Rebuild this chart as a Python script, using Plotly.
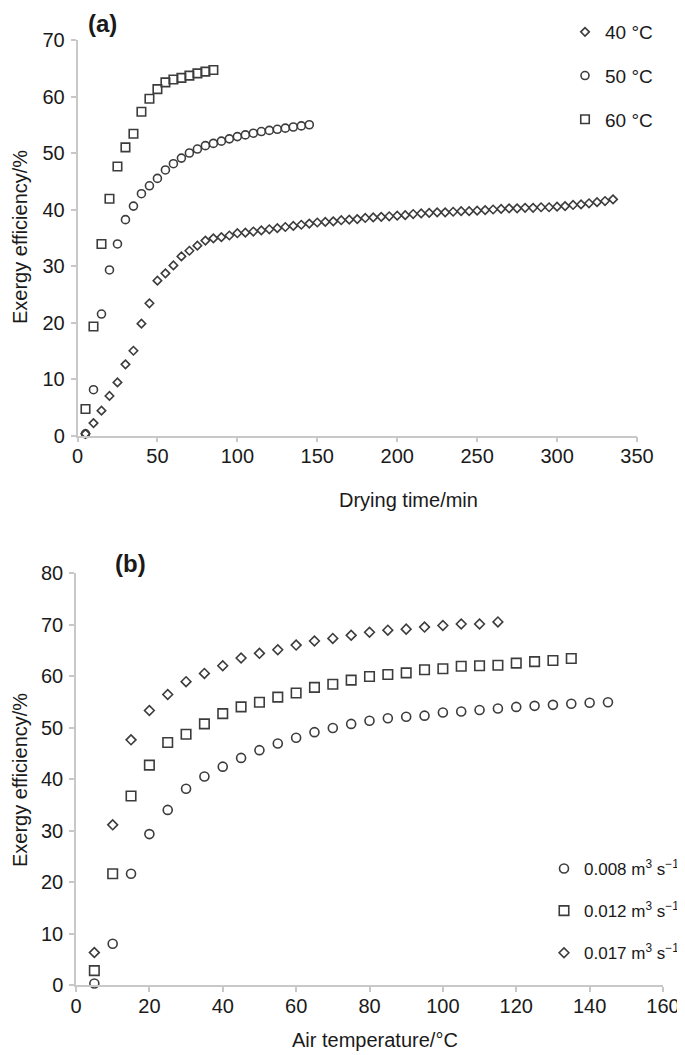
import plotly.graph_objects as go

# Panel (a): exergy efficiency vs drying time
time_40 = list(range(5, 340, 5))
eff_40 = [0.3, 2.2, 4.4, 7.0, 9.4, 12.6, 15.0, 19.8, 23.4, 27.4,
          28.7, 30.1, 31.7, 32.7, 33.6, 34.5, 34.9, 35.1, 35.4, 35.8,
          35.9, 36.1, 36.3, 36.5, 36.7, 36.9, 37.1, 37.3, 37.5, 37.7,
          37.8, 37.9, 38.1, 38.2, 38.3, 38.5, 38.6, 38.7, 38.8, 38.9,
          39.0, 39.2, 39.3, 39.4, 39.5, 39.5, 39.6, 39.7, 39.7, 39.8,
          39.9, 40.0, 40.1, 40.2, 40.2, 40.3, 40.3, 40.4, 40.4, 40.5,
          40.6, 40.8, 40.9, 41.1, 41.3, 41.5, 41.8]
time_50 = list(range(5, 150, 5))
eff_50 = [0.3, 8.1, 21.5, 29.3, 33.9, 38.2, 40.6, 42.8, 44.2, 45.5,
          47.0, 48.1, 49.1, 50.0, 50.7, 51.3, 51.7, 52.1, 52.5, 52.9,
          53.2, 53.5, 53.8, 54.0, 54.2, 54.4, 54.6, 54.8, 55.0]
time_60 = list(range(5, 90, 5))
eff_60 = [4.7, 19.3, 33.9, 41.9, 47.6, 51.0, 53.4, 57.3, 59.6, 61.3,
          62.5, 63.0, 63.3, 63.7, 64.1, 64.4, 64.7]

# Panel (b): exergy efficiency vs air temperature
temp_008 = list(range(5, 150, 5))
eff_008 = [0.3, 8.0, 21.6, 29.3, 34.0, 38.1, 40.5, 42.4, 44.1, 45.6,
           46.9, 48.0, 49.1, 49.9, 50.7, 51.3, 51.8, 52.1, 52.3, 52.9,
           53.1, 53.4, 53.7, 54.0, 54.2, 54.4, 54.6, 54.8, 54.9]
temp_012 = list(range(5, 140, 5))
eff_012 = [2.8, 21.6, 36.7, 42.7, 47.1, 48.7, 50.7, 52.7, 54.0, 54.9,
           55.9, 56.7, 57.8, 58.4, 59.2, 59.9, 60.3, 60.6, 61.2, 61.4,
           61.9, 62.0, 62.1, 62.5, 62.8, 63.0, 63.4]
temp_017 = list(range(5, 120, 5))
eff_017 = [6.3, 31.1, 47.6, 53.3, 56.4, 58.9, 60.5, 62.0, 63.5, 64.4,
           65.1, 66.0, 66.8, 67.3, 67.9, 68.5, 68.9, 69.1, 69.5, 69.8,
           70.1, 70.1, 70.5]

# the page body has an 8px margin, so the figure sits at (8, 8)
OFF = 8
W, H = 685 - OFF, 1055 - OFF
FONT = 'Liberation Sans, Arial, sans-serif'
MARK = '#3c3c3c'
AXIS = '#c8c8c8'


def px(x):
    return (x - OFF) / W


def py(y):
    return 1 - (y - OFF) / H


def marker(symbol, size):
    return dict(symbol=symbol, size=size, color=MARK,
                line=dict(color=MARK, width=1.6))


fig = go.Figure()

# panel (a)
fig.add_trace(go.Scatter(x=time_40, y=eff_40, mode='markers', name='40 °C',
                         marker=marker('diamond-open', 6.5), legend='legend',
                         legendgroup='a40', cliponaxis=False,
                         xaxis='x', yaxis='y'))
fig.add_trace(go.Scatter(x=time_50, y=eff_50, mode='markers', name='50 °C',
                         marker=marker('circle-open', 8), legend='legend',
                         legendgroup='a50', cliponaxis=False,
                         xaxis='x', yaxis='y'))
fig.add_trace(go.Scatter(x=time_60, y=eff_60, mode='markers', name='60 °C',
                         marker=marker('square-open', 8.5), legend='legend',
                         legendgroup='a60', cliponaxis=False,
                         xaxis='x', yaxis='y'))

# panel (b)
fig.add_trace(go.Scatter(x=temp_008, y=eff_008, mode='markers',
                         name='0.008 m<sup>3</sup> s<sup>−1</sup>',
                         marker=marker('circle-open', 9), legend='legend2',
                         legendgroup='b008', cliponaxis=False,
                         xaxis='x2', yaxis='y2'))
fig.add_trace(go.Scatter(x=temp_012, y=eff_012, mode='markers',
                         name='0.012 m<sup>3</sup> s<sup>−1</sup>',
                         marker=marker('square-open', 9.5), legend='legend2',
                         legendgroup='b012', cliponaxis=False,
                         xaxis='x2', yaxis='y2'))
fig.add_trace(go.Scatter(x=temp_017, y=eff_017, mode='markers',
                         name='0.017 m<sup>3</sup> s<sup>−1</sup>',
                         marker=marker('diamond-open', 7.5), legend='legend2',
                         legendgroup='b017', cliponaxis=False,
                         xaxis='x2', yaxis='y2'))

axis_style = dict(showgrid=False, zeroline=False, showline=True,
                  linecolor=AXIS, linewidth=1.5, ticks='outside',
                  ticklen=5, tickwidth=1.5, tickcolor=AXIS,
                  tickfont=dict(family=FONT, size=20, color='#1a1a1a'),
                  automargin=False, fixedrange=True)

legend_style = dict(bgcolor='rgba(0,0,0,0)', itemwidth=30,
                    xanchor='left', yanchor='top')

fig.update_layout(
    width=W, height=H,
    margin=dict(l=0, r=0, t=0, b=0),
    paper_bgcolor='white', plot_bgcolor='white',
    font=dict(family=FONT, color='#1a1a1a'),
    xaxis=dict(domain=[px(77.5), px(637)], range=[0, 350], dtick=50,
               anchor='y', ticklabelstandoff=-3, **axis_style),
    yaxis=dict(domain=[py(435.5), py(40)], range=[0, 70], dtick=10,
               anchor='x', ticklabelstandoff=2, **axis_style),
    xaxis2=dict(domain=[px(76), px(663)], range=[0, 160], dtick=20,
                anchor='y2', ticklabelstandoff=-3, **axis_style),
    yaxis2=dict(domain=[py(985), py(573)], range=[0, 80], dtick=10,
                anchor='x2', ticklabelstandoff=2, **axis_style),
    legend=dict(x=px(565), y=py(13), tracegroupgap=16,
                font=dict(family=FONT, size=19, color='#1a1a1a'),
                **legend_style),
    legend2=dict(x=px(544), y=py(851), tracegroupgap=17,
                 font=dict(family=FONT, size=17, color='#1a1a1a'),
                 **legend_style),
    showlegend=True,
)

annotations = [
    dict(text='<b>(a)</b>', x=px(103), y=py(8), yanchor='top',
         font=dict(size=24)),
    dict(text='<b>(b)</b>', x=px(130), y=py(563), font=dict(size=24)),
    dict(text='Drying time/min', x=px(408), y=py(500), font=dict(size=20)),
    dict(text='Air temperature/°C', x=px(375), y=py(1040), font=dict(size=20)),
    dict(text='Exergy efficiency/%', x=px(20), y=py(237), textangle=-90,
         font=dict(size=20)),
    dict(text='Exergy efficiency/%', x=px(20), y=py(780), textangle=-90,
         font=dict(size=20)),
]
for a in annotations:
    a.setdefault('yanchor', 'middle')
    a.update(xref='paper', yref='paper', showarrow=False, xanchor='center')
    a['font'].update(family=FONT, color='#1a1a1a')
fig.update_layout(annotations=annotations)

fig.write_html("out.html")
